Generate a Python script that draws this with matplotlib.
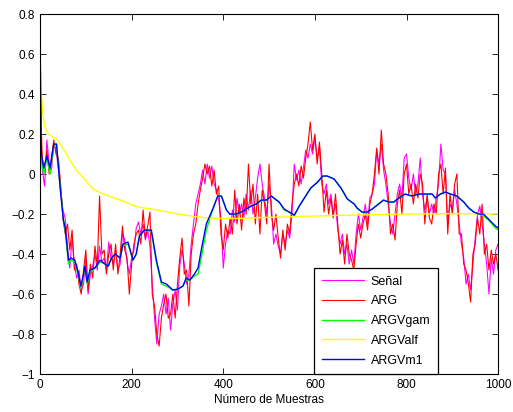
import numpy as np
import matplotlib
matplotlib.use("Agg")
import matplotlib.pyplot as plt

plt.rcParams['font.family'] = ['Liberation Sans', 'DejaVu Sans']

# ----------------------------- data -----------------------------
# noisy series, one value every 5 samples (0, 5, ..., 1000)
x_noisy = np.arange(0, 1001, 5)

senal = [0.30, 0.02, -0.06, 0.17, 0.05, 0.02, 0.15, 0.12, 0.03, -0.08,
         -0.18, -0.22, -0.36, -0.47, -0.32, -0.45, -0.52, -0.48, -0.58, -0.55,
         -0.42, -0.60, -0.50, -0.46, -0.40, -0.48, -0.36, -0.44, -0.42, -0.48,
         -0.34, -0.42, -0.45, -0.38, -0.48, -0.45, -0.30, -0.33, -0.44, -0.50,
         -0.42, -0.38, -0.27, -0.24, -0.30, -0.25, -0.33, -0.28, -0.36, -0.55,
         -0.72, -0.85, -0.70, -0.66, -0.60, -0.70, -0.62, -0.78, -0.65, -0.58,
         -0.68, -0.46, -0.38, -0.45, -0.55, -0.50, -0.35, -0.25, -0.15, -0.10,
         -0.05, 0.02, -0.05, 0.05, -0.02, 0.04, -0.05, -0.08, -0.13, -0.22,
         -0.47, -0.35, -0.28, -0.30, -0.18, -0.24, -0.12, -0.20, -0.15, -0.22,
         -0.10, -0.18, -0.08, -0.20, -0.12, -0.02, 0.05, -0.05, -0.12, -0.20,
         -0.05, -0.15, -0.35, -0.30, -0.36, -0.40, -0.30, -0.35, -0.28, -0.32,
         -0.20, 0.05, -0.03, 0.02, -0.05, 0.03, 0.12, 0.08, 0.15, 0.10,
         0.18, 0.08, 0.13, -0.05, -0.10, -0.05, -0.15, -0.10, -0.20, -0.15,
         -0.28, -0.35, -0.30, -0.40, -0.35, -0.45, -0.38, -0.45, -0.30, -0.20,
         -0.28, -0.22, -0.15, -0.25, -0.12, -0.10, -0.05, 0.12, 0.05, 0.15,
         0.02, -0.05, -0.15, -0.25, -0.30, -0.20, -0.10, -0.05, -0.12, 0.08,
         0.10, -0.02, -0.08, 0.00, -0.10, -0.05, 0.08, -0.10, -0.18, -0.12,
         -0.20, -0.15, -0.20, -0.12, -0.05, 0.15, 0.02, 0.00, -0.25, -0.15,
         -0.18, -0.08, -0.15, -0.25, -0.35, -0.42, -0.55, -0.50, -0.58, -0.45,
         -0.32, -0.20, -0.16, -0.25, -0.35, -0.45, -0.60, -0.42, -0.50, -0.38,
         -0.35]

arg = [0.40, 0.08, 0.02, 0.12, 0.00, 0.08, 0.17, 0.10, 0.08, -0.05,
       -0.22, -0.30, -0.25, -0.38, -0.28, -0.48, -0.45, -0.55, -0.60, -0.48,
       -0.38, -0.58, -0.45, -0.52, -0.36, -0.46, -0.11, -0.40, -0.38, -0.50,
       -0.40, -0.35, -0.48, -0.35, -0.50, -0.40, -0.26, -0.38, -0.42, -0.60,
       -0.45, -0.35, -0.30, -0.28, -0.35, -0.18, -0.32, -0.26, -0.19, -0.60,
       -0.66, -0.80, -0.86, -0.72, -0.65, -0.60, -0.72, -0.70, -0.60, -0.72,
       -0.55, -0.42, -0.32, -0.50, -0.48, -0.66, -0.40, -0.30, -0.25, -0.15,
       -0.08, -0.02, 0.05, 0.00, 0.04, -0.06, 0.02, -0.10, -0.06, -0.30,
       -0.38, -0.25, -0.32, -0.22, -0.30, -0.08, -0.25, -0.15, -0.28, -0.12,
       -0.20, 0.05, -0.15, -0.05, -0.25, -0.10, -0.30, -0.08, -0.15, -0.25,
       0.05, -0.20, -0.28, -0.20, -0.32, -0.42, -0.28, -0.38, -0.25, -0.30,
       -0.15, -0.05, 0.00, -0.06, 0.04, -0.02, 0.08, 0.15, 0.26, 0.12,
       0.20, 0.05, 0.16, 0.00, -0.19, -0.08, -0.20, -0.12, -0.22, -0.10,
       -0.25, -0.40, -0.33, -0.45, -0.30, -0.40, -0.43, -0.48, -0.35, -0.25,
       -0.32, -0.25, -0.20, -0.28, -0.15, -0.10, 0.00, 0.13, 0.00, 0.22,
       0.05, 0.00, -0.10, -0.30, -0.25, -0.33, -0.15, -0.08, -0.20, 0.00,
       0.05, -0.10, -0.05, -0.15, -0.05, -0.12, 0.00, -0.05, -0.25, -0.10,
       -0.22, -0.25, -0.15, -0.20, 0.00, 0.05, -0.10, 0.03, -0.30, -0.10,
       -0.20, -0.05, 0.00, -0.30, -0.30, -0.45, -0.48, -0.55, -0.64, -0.40,
       -0.35, -0.22, -0.30, -0.15, -0.40, -0.35, -0.48, -0.38, -0.45, -0.40,
       -0.48]

# smooth estimates, read at irregular sample positions
x_m1 = [0, 3, 8, 15, 22, 30, 36, 44, 51, 55, 62, 68, 76, 84, 89, 95, 98, 103, 109,
        120, 131, 142, 149, 156, 164, 175, 181, 192, 203, 210, 217, 228, 243, 254,
        265, 276, 290, 301, 312, 319, 327, 337, 345, 352, 363, 377, 388, 396, 407,
        414, 428, 439, 450, 461, 472, 483, 494, 505, 516, 522, 533, 544, 555, 566,
        577, 591, 606, 617, 627, 642, 657, 671, 686, 692, 703, 714, 725, 739, 750,
        761, 772, 783, 797, 812, 827, 841, 856, 863, 874, 885, 896, 910, 925, 936,
        947, 958, 968, 979, 994, 1000]

argvm1 = [0.69, 0.10, 0.03, 0.09, 0.03, 0.15, 0.15, -0.07, -0.23, -0.27, -0.43, -0.42,
          -0.43, -0.50, -0.56, -0.50, -0.46, -0.54, -0.48, -0.47, -0.43, -0.45, -0.46,
          -0.42, -0.40, -0.42, -0.35, -0.34, -0.43, -0.40, -0.31, -0.28, -0.28, -0.43,
          -0.54, -0.55, -0.58, -0.575, -0.56, -0.52, -0.53, -0.50, -0.47, -0.38, -0.25,
          -0.175, -0.11, -0.11, -0.18, -0.20, -0.20, -0.19, -0.175, -0.16, -0.15, -0.13,
          -0.13, -0.11, -0.13, -0.14, -0.175, -0.19, -0.205, -0.16, -0.12, -0.07, -0.04,
          -0.01, -0.01, -0.025, -0.07, -0.125, -0.15, -0.17, -0.19, -0.19, -0.175, -0.15,
          -0.13, -0.14, -0.14, -0.12, -0.10, -0.11, -0.10, -0.10, -0.10, -0.12, -0.10,
          -0.09, -0.10, -0.11, -0.14, -0.17, -0.19, -0.20, -0.20, -0.225, -0.26, -0.27]

argvgam = [0.66, 0.08, 0.00, 0.08, 0.00, 0.14, 0.15, -0.06, -0.22, -0.28, -0.45, -0.43,
           -0.44, -0.51, -0.57, -0.51, -0.47, -0.55, -0.49, -0.47, -0.44, -0.45, -0.46,
           -0.42, -0.40, -0.42, -0.36, -0.35, -0.43, -0.40, -0.31, -0.28, -0.29, -0.44,
           -0.55, -0.56, -0.58, -0.575, -0.56, -0.53, -0.53, -0.51, -0.50, -0.42, -0.28,
           -0.18, -0.11, -0.11, -0.18, -0.20, -0.20, -0.19, -0.175, -0.16, -0.15, -0.13,
           -0.13, -0.11, -0.13, -0.14, -0.18, -0.19, -0.21, -0.16, -0.12, -0.07, -0.04,
           -0.01, -0.01, -0.025, -0.07, -0.125, -0.15, -0.17, -0.19, -0.19, -0.175, -0.15,
           -0.13, -0.14, -0.14, -0.12, -0.10, -0.11, -0.10, -0.10, -0.10, -0.12, -0.10,
           -0.09, -0.10, -0.11, -0.14, -0.17, -0.19, -0.20, -0.21, -0.23, -0.27, -0.28]

x_alf = [0, 3, 6, 11, 18, 29, 36, 44, 55, 66, 80, 95, 116, 138, 175, 214, 257, 301,
         345, 385, 428, 516, 600, 686, 800, 900, 1000]
argvalf = [0.45, 0.40, 0.30, 0.23, 0.20, 0.183, 0.175, 0.15, 0.11, 0.067, 0.017, -0.02,
           -0.075, -0.10, -0.13, -0.165, -0.18, -0.20, -0.215, -0.222, -0.222, -0.215,
           -0.21, -0.205, -0.20, -0.198, -0.20]

# ----------------------------- figure -----------------------------
fig = plt.figure(figsize=(5.13, 4.12), dpi=100)
ax = fig.add_axes([0.078, 0.092, 0.893, 0.874])

ax.plot(x_noisy, senal, color='#ff00ff', lw=0.8, label='Señal')
ax.plot(x_noisy, arg, color='#ff0000', lw=0.8, label='ARG')
ax.plot(x_m1, argvgam, color='#00ff00', lw=1.0, label='ARGVgam')
ax.plot(x_alf, argvalf, color='#ffff00', lw=1.0, label='ARGValf')
ax.plot(x_m1, argvm1, color='#0000ff', lw=1.0, label='ARGVm1')

ax.set_xlim(0, 1000)
ax.set_ylim(-1, 0.8)
ax.set_xticks(np.arange(0, 1001, 200))
yt = np.round(np.arange(-1, 0.81, 0.2), 1)
ax.set_yticks(yt)
ax.set_yticklabels(['\u22121' if v == -1 else ('0' if v == 0 else f'{v:g}'.replace('-', '\u2212')) for v in yt])
ax.tick_params(direction='in', top=True, right=True, labelsize=8.5, length=4, width=0.6)
for s in ax.spines.values():
    s.set_linewidth(0.8)
ax.set_xlabel('Número de Muestras', fontsize=8.5, labelpad=2)

leg = ax.legend(loc='lower right', bbox_to_anchor=(0.868, 0.0), fontsize=9,
                fancybox=False, edgecolor='black', framealpha=1, handlelength=3.4,
                handletextpad=0.5, borderpad=0.6, labelspacing=0.62, borderaxespad=0.0)
leg.get_frame().set_linewidth(0.9)

fig.savefig('out.png', dpi=100)
